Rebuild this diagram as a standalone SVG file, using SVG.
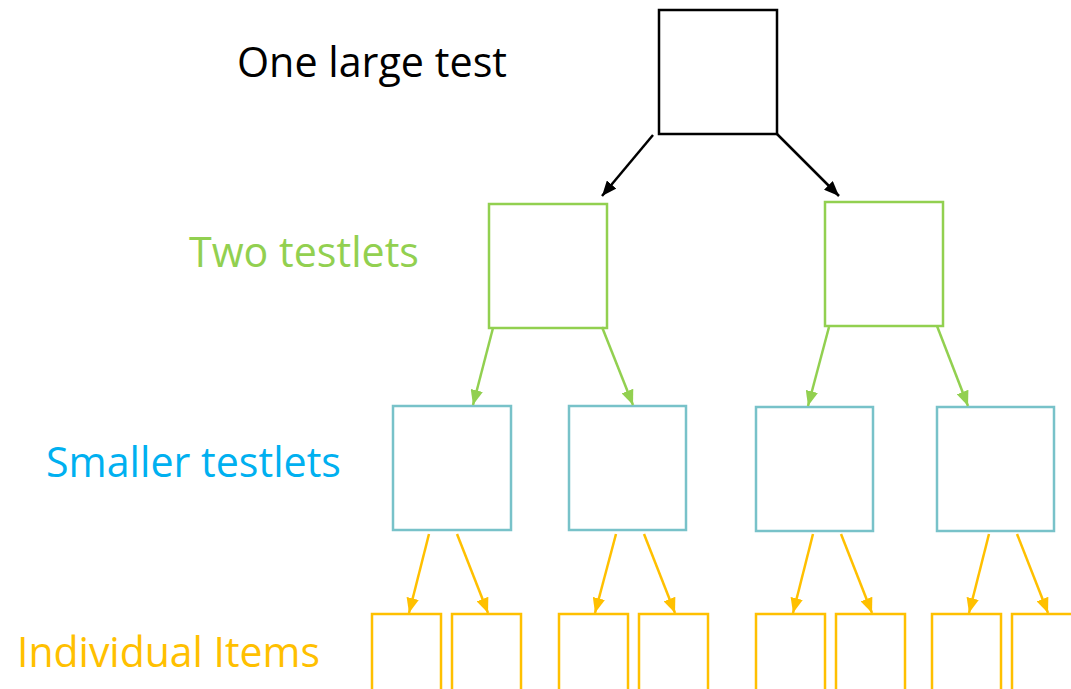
<svg xmlns="http://www.w3.org/2000/svg" width="1071" height="689" viewBox="0 0 1071 689">
  <style>
    .lbl { font-family: "Open Sans", "Liberation Sans", sans-serif; font-size: 42px; }
    .box { fill: #ffffff; stroke-width: 2.5; }
    .b0 { stroke: #000000; }
    .b1 { stroke: #92D050; }
    .b2 { stroke: #78C2C9; }
    .b3 { stroke: #FFC000; }
    .c { fill: none; stroke-width: 2.5; }
  </style>
  <defs>
    <marker id="ak" viewBox="0 0 6 5" refX="6" refY="2.5" markerWidth="6" markerHeight="5" orient="auto" markerUnits="strokeWidth"><path d="M0,0 L6,2.5 L0,5 z" fill="#000000"/></marker>
    <marker id="ag" viewBox="0 0 6 5" refX="6" refY="2.5" markerWidth="6" markerHeight="5" orient="auto" markerUnits="strokeWidth"><path d="M0,0 L6,2.5 L0,5 z" fill="#92D050"/></marker>
    <marker id="ay" viewBox="0 0 6 5" refX="6" refY="2.5" markerWidth="6" markerHeight="5" orient="auto" markerUnits="strokeWidth"><path d="M0,0 L6,2.5 L0,5 z" fill="#FFC000"/></marker>
  </defs>

  <g id="labels">
    <text class="lbl" x="237" y="77" fill="#000000" textLength="270" lengthAdjust="spacingAndGlyphs">One large test</text>
    <text class="lbl" x="189" y="267" fill="#92D050" textLength="230" lengthAdjust="spacingAndGlyphs">Two testlets</text>
    <text class="lbl" x="46" y="477" fill="#00B0F0" textLength="295" lengthAdjust="spacingAndGlyphs">Smaller testlets</text>
    <text class="lbl" x="17" y="667" fill="#FFC000" textLength="303" lengthAdjust="spacingAndGlyphs">Individual Items</text>
  </g>

  <g id="node-top"><rect class="box b0" x="659" y="10" width="118" height="124"/></g>

  <g id="node-t1"><rect class="box b1" x="489" y="204" width="118" height="124"/></g>
  <g id="node-t2"><rect class="box b1" x="825" y="202" width="118" height="124"/></g>

  <g id="node-s1"><rect class="box b2" x="393" y="406" width="118" height="124"/></g>
  <g id="node-s2"><rect class="box b2" x="569" y="406" width="117" height="124"/></g>
  <g id="node-s3"><rect class="box b2" x="756" y="407" width="117" height="124"/></g>
  <g id="node-s4"><rect class="box b2" x="937" y="407" width="117" height="124"/></g>

  <g id="node-i1"><rect class="box b3" x="372" y="614" width="69" height="90"/></g>
  <g id="node-i2"><rect class="box b3" x="452" y="614" width="69" height="90"/></g>
  <g id="node-i3"><rect class="box b3" x="559" y="614" width="69" height="90"/></g>
  <g id="node-i4"><rect class="box b3" x="639" y="614" width="69" height="90"/></g>
  <g id="node-i5"><rect class="box b3" x="756" y="614" width="69" height="90"/></g>
  <g id="node-i6"><rect class="box b3" x="836" y="614" width="69" height="90"/></g>
  <g id="node-i7"><rect class="box b3" x="932" y="614" width="69" height="90"/></g>
  <g id="node-i8"><rect class="box b3" x="1012" y="614" width="69" height="90"/></g>

  <g id="connectors">
    <line class="c" stroke="#000000" x1="653" y1="135" x2="602" y2="196" marker-end="url(#ak)"/>
    <line class="c" stroke="#000000" x1="777" y1="134" x2="839" y2="196" marker-end="url(#ak)"/>

    <line class="c" stroke="#92D050" x1="493" y1="328" x2="473" y2="405" marker-end="url(#ag)"/>
    <line class="c" stroke="#92D050" x1="602" y1="327" x2="633" y2="405" marker-end="url(#ag)"/>
    <line class="c" stroke="#92D050" x1="829" y1="327" x2="808" y2="406" marker-end="url(#ag)"/>
    <line class="c" stroke="#92D050" x1="937" y1="326" x2="968" y2="406" marker-end="url(#ag)"/>

    <line class="c" stroke="#FFC000" x1="429" y1="534" x2="409" y2="613" marker-end="url(#ay)"/>
    <line class="c" stroke="#FFC000" x1="457" y1="534" x2="488" y2="613" marker-end="url(#ay)"/>
    <line class="c" stroke="#FFC000" x1="616" y1="534" x2="595" y2="613" marker-end="url(#ay)"/>
    <line class="c" stroke="#FFC000" x1="644" y1="534" x2="675" y2="613" marker-end="url(#ay)"/>
    <line class="c" stroke="#FFC000" x1="813" y1="534" x2="793" y2="613" marker-end="url(#ay)"/>
    <line class="c" stroke="#FFC000" x1="841" y1="534" x2="872" y2="613" marker-end="url(#ay)"/>
    <line class="c" stroke="#FFC000" x1="989" y1="534" x2="969" y2="613" marker-end="url(#ay)"/>
    <line class="c" stroke="#FFC000" x1="1017" y1="534" x2="1048" y2="613" marker-end="url(#ay)"/>
  </g>
</svg>
